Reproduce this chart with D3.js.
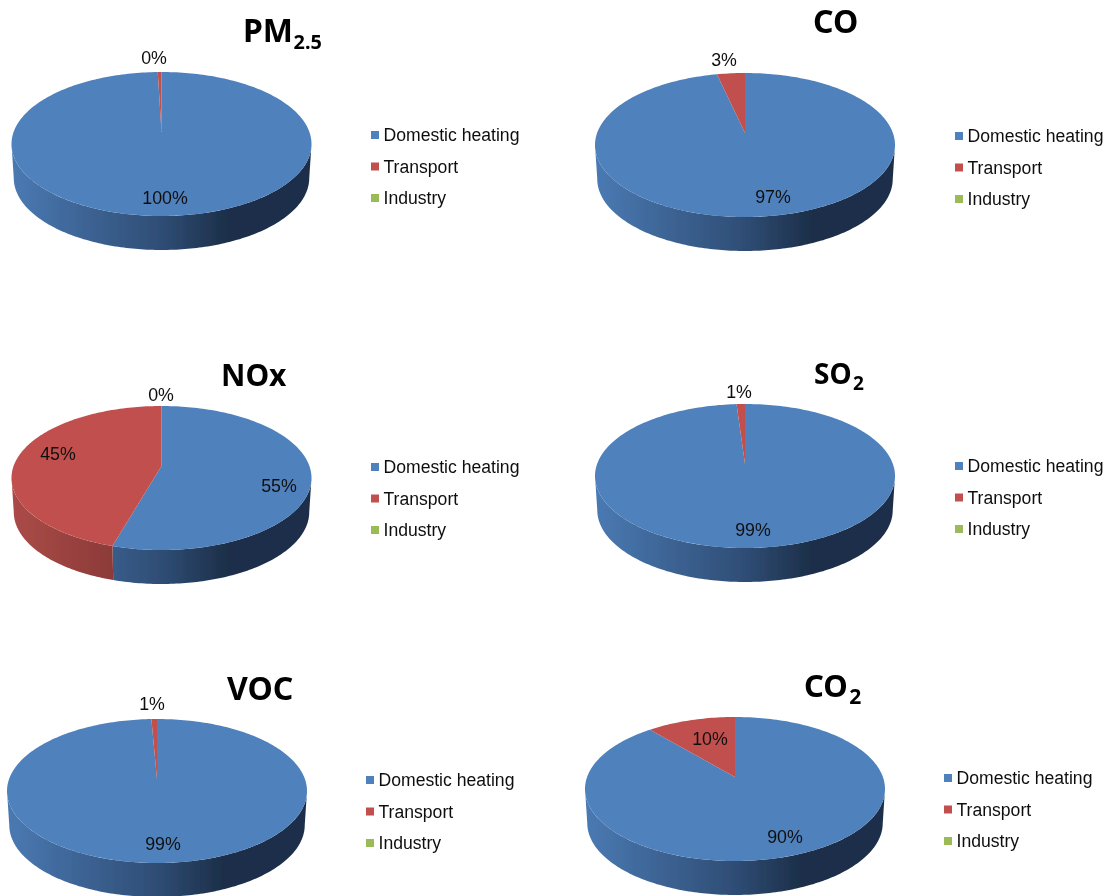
<!DOCTYPE html>
<html>
<head>
<meta charset="utf-8">
<script src="https://cdnjs.cloudflare.com/ajax/libs/d3/7.8.5/d3.min.js"></script>
<style>
html, body { margin: 0; padding: 0; background: #fff; }
svg { display: block; }
text { font-family: "Liberation Sans", Arial, sans-serif; fill: #111; }
.title { font-family: "Noto Sans", "Open Sans", sans-serif; font-weight: 700; fill: #000; }
</style>
</head>
<body>
<div id="chart"></div>
<script>
// data
var categories = ["Domestic heating", "Transport", "Industry"];
var pollutants = ["PM2.5", "CO", "NOx", "SO2", "VOC", "CO2"];
var domesticValues = [99.6, 97, 55.3, 99.1, 99.4, 90.4];
var transportValues = [0.4, 3, 44.7, 0.9, 0.6, 9.6];
var industryValues = [0, 0, 0, 0, 0, 0];

// layout, one entry per pie
var pieLayout = [
	{cx: 161.5, top: 72, legendX: 371, legendY: 135, title: {x: 243, y: 42, size: 32, base: "PM", sub: "2.5", subScale: 0.62, subGap: 0.5}},
	{cx: 745, top: 73, legendX: 955, legendY: 136, title: {x: 813, y: 33, size: 32, base: "CO", sub: ""}},
	{cx: 161.5, top: 406, legendX: 371, legendY: 467, title: {x: 221, y: 386, size: 30, base: "NOx", sub: ""}},
	{cx: 745, top: 404, legendX: 955, legendY: 466, title: {x: 814, y: 384, size: 28, base: "SO", sub: "2", subScale: 0.68, subGap: 1.5}},
	{cx: 157, top: 719, legendX: 366, legendY: 780, title: {x: 227, y: 700, size: 32, base: "VOC", sub: ""}},
	{cx: 735, top: 717, legendX: 944, legendY: 778, title: {x: 804, y: 697, size: 31, base: "CO", sub: "2", subScale: 0.68, subGap: 1.5}}
];
var labelSpots = [
	{Domestic: [165, 198], Transport: [154, 58]},
	{Domestic: [773, 197], Transport: [724, 60]},
	{Domestic: [279, 486], Transport: [58, 454], Industry: [161, 395]},
	{Domestic: [753, 530], Transport: [739, 392]},
	{Domestic: [163, 844], Transport: [152, 704]},
	{Domestic: [785, 837], Transport: [710, 739]}
];

var rx = 150, ry = 72, depth = 34, apexLift = 12, baseTaper = 0.985;
var legendStep = 31.5, swatch = 8;

var color = d3.scaleOrdinal().domain(categories).range(["#4f81bd", "#c0504d", "#9bbb59"]);
var sideLeft = d3.scaleOrdinal().domain(categories).range(["#4a7ab3", "#ab4b48", "#8fae50"]);
var sideMid = d3.scaleOrdinal().domain(categories).range(["#2f4d75", "#7d3331", "#5f7435"]);
var sideRight = d3.scaleOrdinal().domain(categories).range(["#1c2f49", "#5c2523", "#47572a"]);

var pie = d3.pie().sort(null).value(function(d) { return d.value; });

var svg = d3.select("#chart").append("svg")
	.attr("width", 1111)
	.attr("height", 896);
var defs = svg.append("defs");

// the source is a slightly soft scan
defs.append("filter").attr("id", "soft")
	.attr("filterUnits", "userSpaceOnUse")
	.attr("x", 0).attr("y", 0).attr("width", 1111).attr("height", 896)
	.append("feGaussianBlur").attr("stdDeviation", 0.45);

var root = svg.append("g").attr("filter", "url(#soft)");

function rimPoints(cx, cy, a0, a1) {
	var n = Math.max(2, Math.ceil((a1 - a0) / 0.02));
	return d3.range(n + 1).map(function(i) {
		var a = a0 + (a1 - a0) * i / n;
		return [cx + rx * Math.sin(a), cy - ry * Math.cos(a)];
	});
}

var line = d3.line();

pollutants.forEach(function(name, i) {
	var layout = pieLayout[i];
	var cx = layout.cx, cy = layout.top + ry;
	var rows = categories.map(function(c, k) {
		return {category: c, value: [domesticValues, transportValues, industryValues][k][i]};
	});
	var arcs = pie(rows);
	var g = root.append("g").attr("class", "pie-" + i);

	// side wall, only the front half of the rim shows
	arcs.forEach(function(d, k) {
		var a0 = Math.max(d.startAngle, Math.PI / 2);
		var a1 = Math.min(d.endAngle, Math.PI * 3 / 2);
		if (a1 <= a0) return;
		var id = "side-" + i + "-" + k;
		var grad = defs.append("linearGradient")
			.attr("id", id)
			.attr("gradientUnits", "userSpaceOnUse")
			.attr("x1", cx - rx).attr("x2", cx + rx)
			.attr("y1", 0).attr("y2", 0);
		grad.append("stop").attr("offset", 0).attr("stop-color", sideLeft(d.data.category));
		grad.append("stop").attr("offset", 0.5).attr("stop-color", sideMid(d.data.category));
		grad.append("stop").attr("offset", 0.72).attr("stop-color", sideRight(d.data.category));
		grad.append("stop").attr("offset", 1).attr("stop-color", sideRight(d.data.category));

		var upper = rimPoints(cx, cy, a0, a1);
		var lower = upper.slice().reverse().map(function(p) {
			return [cx + (p[0] - cx) * baseTaper, p[1] + depth];
		});
		g.append("path")
			.attr("d", line(upper.concat(lower)) + "Z")
			.attr("fill", "url(#" + id + ")");
	});

	// top face, the slices meet above the ellipse centre
	arcs.forEach(function(d) {
		if (d.endAngle <= d.startAngle) return;
		var pts = [[cx, cy - apexLift]].concat(rimPoints(cx, cy, d.startAngle, d.endAngle));
		g.append("path")
			.attr("d", line(pts) + "Z")
			.attr("fill", color(d.data.category));
	});

	// percent labels
	arcs.forEach(function(d) {
		var key = d.data.category.split(" ")[0];
		var pos = labelSpots[i][key];
		if (!pos) return;
		g.append("text")
			.attr("x", pos[0]).attr("y", pos[1])
			.attr("text-anchor", "middle")
			.attr("dominant-baseline", "central")
			.style("font-size", "17.8px")
			.text(Math.round(d.data.value) + "%");
	});

	// title
	var t = g.append("text")
		.attr("class", "title")
		.attr("x", layout.title.x).attr("y", layout.title.y)
		.style("font-size", layout.title.size + "px")
		.text(layout.title.base);
	if (layout.title.sub) {
		t.append("tspan")
			.attr("dx", layout.title.subGap)
			.attr("dy", layout.title.size * 0.22)
			.style("font-size", (layout.title.size * layout.title.subScale) + "px")
			.text(layout.title.sub);
	}

	// legend
	var legend = g.append("g").attr("class", "legend");
	categories.forEach(function(c, k) {
		var y = layout.legendY + k * legendStep;
		legend.append("rect")
			.attr("x", layout.legendX).attr("y", y - swatch / 2)
			.attr("width", swatch).attr("height", swatch)
			.attr("fill", color(c));
		legend.append("text")
			.attr("x", layout.legendX + 12.5)
			.attr("y", y)
			.attr("dominant-baseline", "central")
			.style("font-size", "17.6px")
			.text(c);
	});
});
</script>
</body>
</html>
